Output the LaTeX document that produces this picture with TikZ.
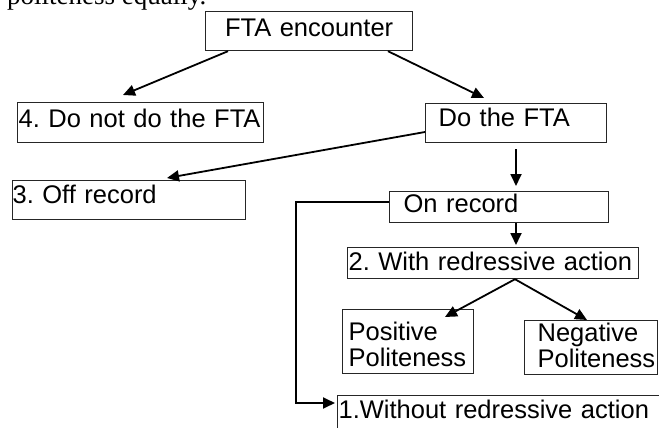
\documentclass[tikz,border=0pt]{standalone}
\usepackage{fontspec}
\setmainfont{Liberation Sans}
\newfontfamily\serifface{Liberation Serif}
\usetikzlibrary{arrows.meta,calc}
\frenchspacing
\begin{document}
\begin{tikzpicture}[x=1pt,y=-1pt,
  bx/.style={draw=black!85, line width=1.2pt, inner sep=0pt, anchor=north west, align=left,
    font=\fontsize{25.5}{25.5}\selectfont\frenchspacing, text=black},
  conn/.style={draw=black, line width=1.8pt, -{Triangle[length=12pt,width=11pt]}},
  captext/.style={font=\serifface\fontsize{27}{30}\selectfont, anchor=base west, inner sep=0pt, text=black}]
\useasboundingbox (0,0) rectangle (659,428);
\clip (0,0) rectangle (659,428);
\fill[white] (0,0) rectangle (659,428);

\node[captext] (cap) at (7,5) {politeness equally.};

\node[bx, align=center, text width=207pt, text height=25pt, text depth=14pt] (enc) at (205,11) {FTA encounter};
\node[bx, text width=246pt, text height=25pt, text depth=15pt] (not) at (17,102) {\hspace*{1pt}4. Do not do the FTA};
\node[bx, text width=181pt, text height=23pt, text depth=16pt] (do) at (425,103) {\hspace*{13pt}Do the FTA};
\node[bx, text width=233pt, text height=23pt, text depth=16pt] (off) at (12,180) {3. Off record};
\node[bx, text width=219pt, text height=21pt, text depth=10pt] (on) at (389,191) {\hspace*{14pt}On record};
\node[bx, text width=291pt, text height=23pt, text depth=8pt] (with) at (347,247) {\hspace*{1pt}2. With redressive action};
\node[bx, text width=131pt, text height=31pt, text depth=33pt] (pos) at (342,309) {\hspace*{6pt}Positive\\\hspace*{6pt}Politeness};
\node[bx, text width=133pt, text height=21pt, text depth=33pt] (neg) at (524,320) {\hspace*{13pt}Negative\\\hspace*{13pt}Politeness};
\node[bx, text width=340pt, text height=23pt, text depth=20pt] (wo) at (337,395) {\hspace*{1pt}1.Without redressive action};

\draw[conn] ($(enc.south west)+(23,0)$) -- ($(not.north west)+(106,-7)$);
\draw[conn] ($(enc.south west)+(183,0)$) -- ($(do.north west)+(59,-5)$);
\draw[conn] ($(do.north west)+(0,29)$) -- ($(off.north west)+(155,-2)$);
\draw[conn] ($(do.south west)+(91,6)$) -- ($(on.north west)+(127,-5)$);
\draw[conn] ($(on.south west)+(127,0)$) -- ($(with.north west)+(169,-2)$);
\draw[conn] ($(with.south west)+(168,0)$) -- ($(pos.north west)+(103,8)$);
\draw[conn] ($(with.south west)+(168,0)$) -- ($(neg.north west)+(63,0)$);
\draw[conn] ($(on.north west)+(0,11)$) -| ($(wo.north west)+(-41,8)$) -- ($(wo.north west)+(-2,8)$);
\end{tikzpicture}
\end{document}
